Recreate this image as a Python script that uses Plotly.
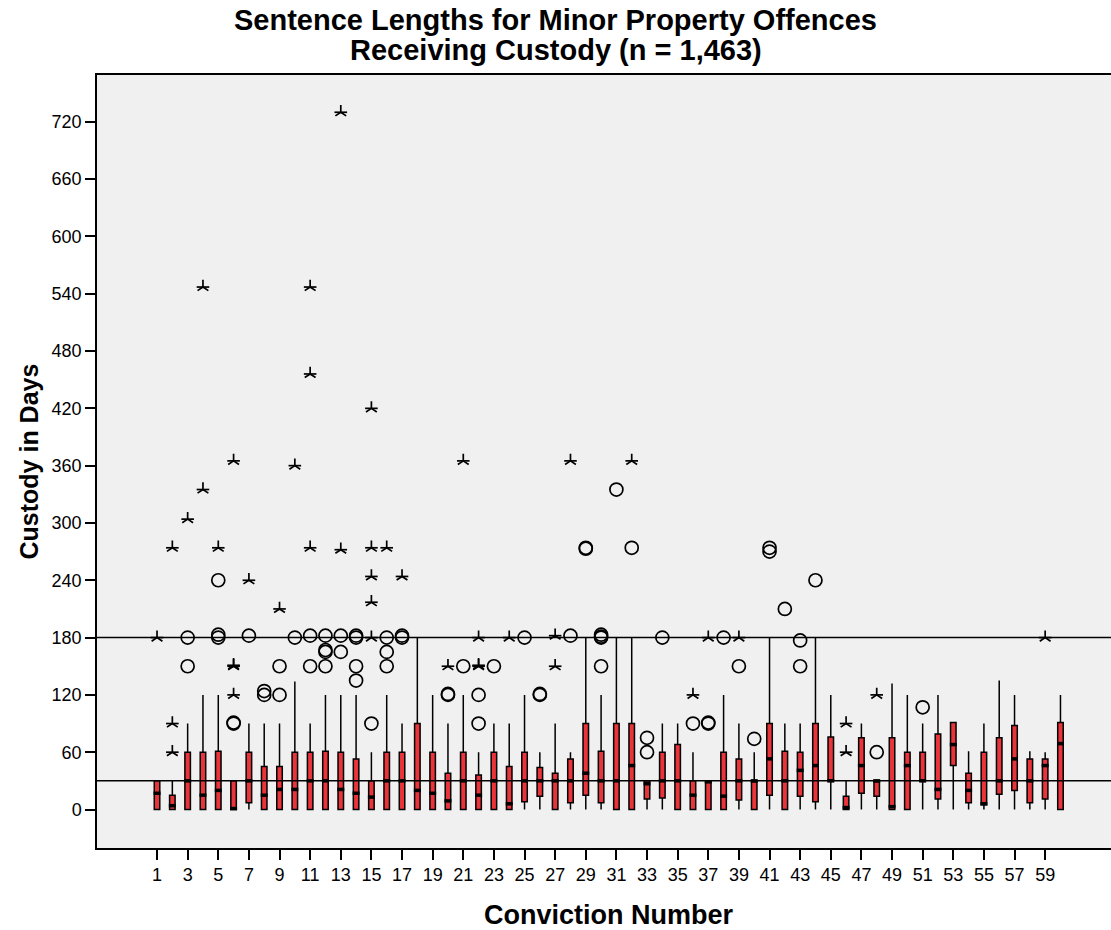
import plotly.graph_objects as go

# Conviction number categories
cats = list(range(1, 61))

# Box statistics (days)
q1 = [0, 0, 0, 0, 0, 0, 7, 0, 0, 0,
      0, 0, 0, 0, 0, 0, 0, 0, 0, 0,
      0, 0, 0, 0, 8, 14, 0, 7, 15, 7,
      0, 0, 11, 12, 0, 0, 0, 0, 10, 0,
      15, 0, 14, 8, 30, 0, 17, 14, 0, 0,
      30, 11, 46, 7, 5, 16, 20, 7, 11, 0]
med = [17, 4, 30, 15, 20, 1, 30, 15, 21, 21,
       30, 30, 21, 17, 13, 30, 30, 20, 17, 9,
       30, 15, 30, 6, 30, 30, 30, 30, 38, 30,
       30, 46, 27, 30, 30, 15, 29, 14, 30, 30,
       53, 30, 41, 46, 30, 2, 46, 30, 3, 46,
       30, 21, 68, 20, 6, 30, 53, 30, 46, 69]
q3 = [30, 15, 60, 60, 61, 30, 60, 45, 45, 60,
      60, 61, 60, 53, 30, 60, 60, 90, 60, 38,
      60, 36, 60, 45, 60, 44, 38, 53, 90, 61,
      90, 90, 30, 60, 68, 30, 30, 60, 53, 30,
      90, 61, 60, 90, 76, 14, 75, 30, 75, 60,
      60, 79, 91, 38, 60, 75, 88, 53, 53, 91]
lo = [0] * 60
hi = [30, 30, 90, 120, 120, 30, 90, 90, 90, 134,
      90, 120, 120, 120, 60, 120, 90, 180, 120, 90,
      120, 60, 90, 90, 120, 60, 90, 60, 180, 120,
      180, 180, 30, 90, 90, 60, 30, 120, 90, 60,
      180, 90, 90, 180, 120, 30, 90, 30, 132, 120,
      90, 120, 91, 61, 90, 135, 120, 61, 60, 120]

# Outliers (circles)
circle_x = [3, 3, 5, 5, 5, 6, 6, 7, 8, 8, 9, 9, 10, 11, 11,
            12, 12, 12, 12, 13, 13, 14, 14, 14, 14, 15, 16, 16, 16, 17, 17,
            20, 20, 21, 22, 22, 23, 25, 26, 26, 28, 29, 29,
            30, 30, 30, 30, 31, 32, 33, 33, 34, 36, 37, 37, 38, 39, 40,
            41, 41, 42, 43, 43, 44, 48, 51]
circle_y = [150, 180, 180, 183, 240, 90, 91, 182, 120, 124, 120, 150, 180, 150, 182,
            150, 165, 167, 182, 165, 182, 135, 150, 180, 182, 90, 150, 165, 180, 180, 182,
            120, 121, 150, 90, 120, 150, 180, 120, 121, 182, 273, 274,
            150, 180, 181, 183, 335, 274, 60, 75, 180, 90, 90, 91, 180, 150, 74,
            270, 274, 210, 150, 177, 240, 60, 107]

# Extremes (stars)
star_x = [1, 2, 2, 2, 3, 4, 4, 5, 6, 6, 6, 6, 7, 9, 10,
          11, 11, 11, 13, 13, 15, 15, 15, 15, 15, 16, 17,
          20, 21, 22, 22, 22, 24, 27, 27, 28, 32, 36, 37, 39,
          46, 46, 48, 59]
star_y = [180, 60, 90, 274, 304, 335, 547, 274, 120, 150, 151, 365, 240, 210, 360,
          274, 456, 547, 272, 730, 180, 217, 244, 274, 420, 274, 244,
          150, 365, 150, 151, 180, 180, 150, 182, 365, 365, 120, 180, 180,
          60, 90, 120, 180]

x_ticks = list(range(1, 60, 2))
y_ticks = list(range(0, 721, 60))
ref_lines = [30, 180]
title_lines = ["Sentence Lengths for Minor Property Offences",
               "Receiving Custody (n = 1,463)"]

font_main = "Liberation Sans, Arial, sans-serif"

fig = go.Figure()

fig.add_trace(go.Box(
    x=cats, q1=q1, median=med, q3=q3, lowerfence=lo, upperfence=hi,
    boxpoints=False, fillcolor="#e8343a",
    line=dict(color="black", width=1.5),
    width=0.36, whiskerwidth=0, showlegend=False, hoverinfo="skip"))

fig.add_trace(go.Scatter(
    x=cats, y=med, mode="markers", showlegend=False, hoverinfo="skip",
    marker=dict(symbol="line-ew-open", size=5, color="black",
                line=dict(color="black", width=3.5))))

fig.add_trace(go.Scatter(
    x=circle_x, y=circle_y, mode="markers", showlegend=False,
    marker=dict(symbol="circle-open", size=13, color="black",
                line=dict(color="black", width=1.7))))

fig.add_trace(go.Scatter(
    x=star_x, y=star_y, mode="markers", showlegend=False,
    marker=dict(symbol="y-up-open", size=9, color="black",
                line=dict(color="black", width=1.7))))
fig.add_trace(go.Scatter(
    x=star_x, y=star_y, mode="markers", showlegend=False, hoverinfo="skip",
    marker=dict(symbol="line-ew-open", size=9, color="black",
                line=dict(color="black", width=1.7))))

for v in ref_lines:
    fig.add_shape(type="line", xref="paper", x0=0, x1=1, yref="y", y0=v, y1=v,
                  line=dict(color="black", width=1.5), layer="above")

title_ann = [
    dict(text="<b>" + t + "</b>", xref="paper", yref="paper",
         x=(555.5 - 97) / 1014, y=1 + (75 - yc) / 773,
         xanchor="center", yanchor="middle", showarrow=False,
         font=dict(size=29))
    for t, yc in zip(title_lines, [20, 50])
]

fig.update_layout(
    width=1111, height=930,
    margin=dict(l=97, r=0, t=75, b=82),
    paper_bgcolor="white", plot_bgcolor="#f0f0f0",
    font=dict(family=font_main, color="black", size=18),
    xaxis=dict(
        range=[-2.92, 63.3], tickmode="array", tickvals=x_ticks,
        ticks="outside", ticklen=10, tickwidth=1.5, tickcolor="black",
        showline=True, linecolor="black", linewidth=1.5, mirror=True,
        showgrid=False, zeroline=False, tickfont=dict(size=18)),
    yaxis=dict(
        range=[-40.3, 769], tickmode="array", tickvals=y_ticks,
        ticks="outside", ticklen=10, tickwidth=1.5, tickcolor="black",
        showline=True, linecolor="black", linewidth=1.5,
        showgrid=False, zeroline=False, tickfont=dict(size=18)),
    annotations=title_ann + [
        dict(text="<b>Custody in Days</b>", xref="paper", yref="paper",
             x=-(97 - 28) / 1014, y=0.5, xanchor="center", yanchor="middle",
             textangle=-90, showarrow=False, font=dict(size=25)),
        dict(text="<b>Conviction Number</b>", x=(609 - 97) / 1014, y=-(915 - 848) / 773,
             xref="paper", yref="paper",
             xanchor="center", yanchor="middle", showarrow=False,
             font=dict(size=27)),
    ],
)

fig.write_html("out.html")
